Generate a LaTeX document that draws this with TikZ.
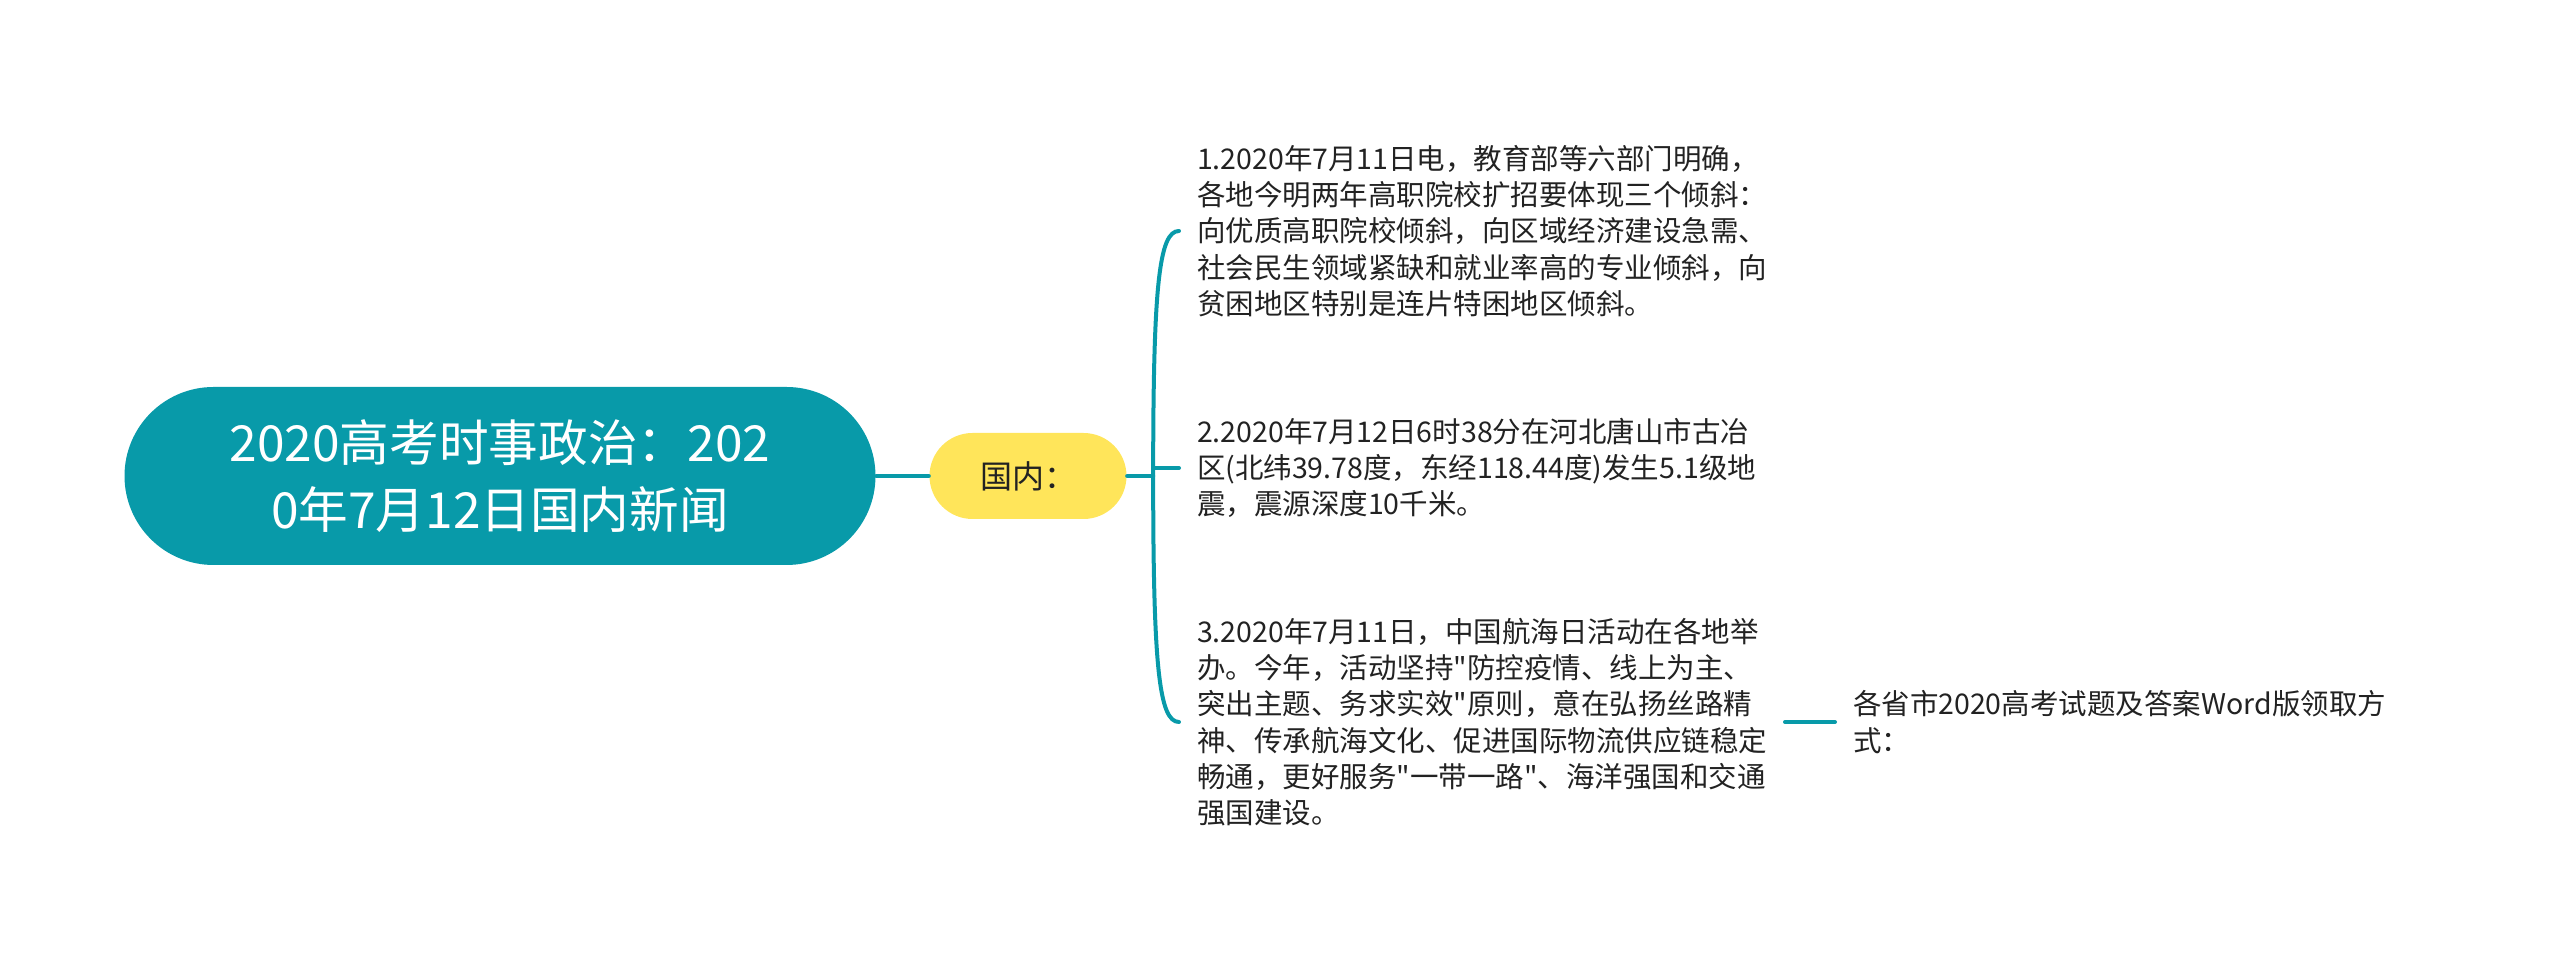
\documentclass[tikz,border=0pt]{standalone}
\usepackage{fontspec}
\usepackage{tikz}
\usetikzlibrary{calc,positioning}
\newfontfamily\cjk{Noto Sans CJK SC}
\definecolor{Ink}{HTML}{222222}
\definecolor{Teal}{HTML}{089AA9}
\definecolor{Sun}{HTML}{FFE55A}
\tikzset{
  root/.style={fill=Teal,text=white,align=center,minimum width=225.3pt,minimum height=53.4pt,
    rounded corners=26.7pt,font=\cjk\fontsize{14.9}{20.1}\selectfont},
  topic/.style={fill=Sun,text=Ink,minimum width=59.1pt,minimum height=25.8pt,
    rounded corners=12.9pt,font=\cjk\fontsize{9.6}{11}\selectfont},
  leaf/.style={text=Ink,align=left,inner xsep=5.2pt,inner ysep=2pt,anchor=west,
    font=\cjk\fontsize{8.55}{10.9}\selectfont},
  link/.style={draw=Teal,line width=1.2pt,line cap=round}
}
\begin{document}
\begin{tikzpicture}[x=0.3pt,y=-0.3pt]
  \useasboundingbox (0,0) rectangle (2560,971);
  \node[root] (root) at (500,476) {2020高考时事政治：202\\0年7月12日国内新闻};
  \node[topic] (gn) at (1028,476) {国内：};
  \node[leaf] (t1) at (1179,231) {1.2020年7月11日电，教育部等六部门明确，\\各地今明两年高职院校扩招要体现三个倾斜：\\向优质高职院校倾斜，向区域经济建设急需、\\社会民生领域紧缺和就业率高的专业倾斜，向\\贫困地区特别是连片特困地区倾斜。};
  \node[leaf] (t2) at (1179,468) {2.2020年7月12日6时38分在河北唐山市古冶\\区(北纬39.78度，东经118.44度)发生5.1级地\\震，震源深度10千米。};
  \node[leaf] (t3) at (1179,722) {3.2020年7月11日，中国航海日活动在各地举\\办。今年，活动坚持"防控疫情、线上为主、\\突出主题、务求实效"原则，意在弘扬丝路精\\神、传承航海文化、促进国际物流供应链稳定\\畅通，更好服务"一带一路"、海洋强国和交通\\强国建设。};
  \node[leaf,right=15pt of t3] (t4) {各省市2020高考试题及答案Word版领取方\\式：};
  % connectors
  \draw[link] (root.east) -- (gn.west);
  \coordinate (sp) at ($(gn.east)+(26,0)$);
  \draw[link] (gn.east) -- (sp);
  \draw[link] (sp) .. controls +(0,-190) and +(-20,0) .. (t1.west);
  \draw[link] (sp) .. controls +(0,190) and +(-20,0) .. (t3.west);
  \draw[link] (sp |- t2.west) -- (t2.west);
  \draw[link] (t3.east) -- (t4.west);
\end{tikzpicture}
\end{document}
